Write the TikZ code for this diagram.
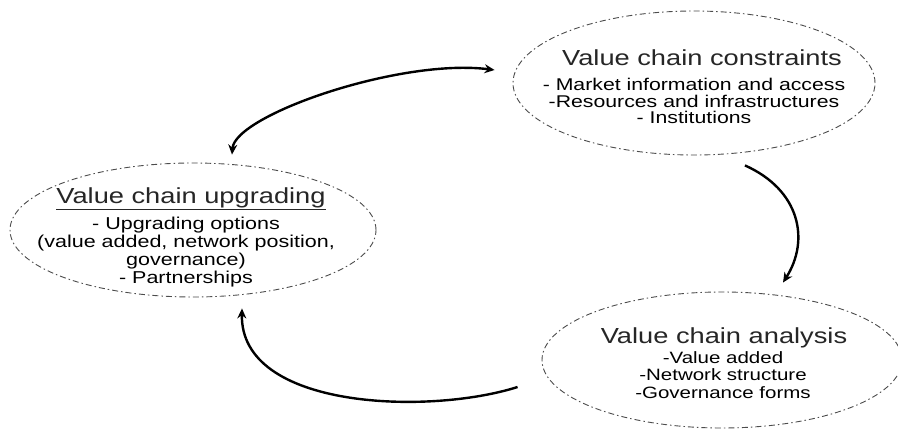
\documentclass[tikz,border=0pt]{standalone}
\usepackage{fontspec}
\setmainfont{Liberation Sans}[FakeStretch=1.25]
\usetikzlibrary{shapes.geometric,arrows.meta,calc}
\begin{document}
\begin{tikzpicture}[x=1pt,y=-1pt,
  cloud/.style={ellipse, draw=black!70, line width=0.9pt,
    dash pattern=on 6pt off 3pt on 1.5pt off 3pt, inner sep=0pt},
  ttl/.style={anchor=base, font=\fontsize{21.8}{24}\selectfont, text=black!85, inner sep=0pt},
  body/.style={anchor=base, align=center, inner sep=0pt, text=black},
  arr/.style={line width=2.4pt, -{Stealth[length=10pt,width=9pt]}},
  arrtwo/.style={line width=2.4pt, {Stealth[length=10pt,width=9pt]}-{Stealth[length=10pt,width=9pt]}},
]
\fill[white] (0,0) rectangle (898,434);
\useasboundingbox (0,0) rectangle (898,434);

% ellipses
\node[cloud, minimum width=362pt, minimum height=144pt] (con) at (694,83) {};
\node[cloud, minimum width=366pt, minimum height=134pt] (up) at (193,230) {};
\node[cloud, minimum width=360pt, minimum height=136pt] (ana) at (722,360) {};

% texts (body nodes: base = baseline of last line)
\node[ttl] (conT) at (702,65) {Value chain constraints};
\node[body, font=\fontsize{17}{16.3}\selectfont] (conB) at (694,123.5)
  {- Market information and access\\-Resources and infrastructures\\- Institutions};

\node[ttl] (upT) at (191,203) {\underline{Value chain upgrading}};
\node[body, font=\fontsize{17.2}{18}\selectfont] (upB) at (186,283)
  {- Upgrading options\\(value added, network position,\\governance)\\- Partnerships};

\node[ttl] (anT) at (724,343) {Value chain analysis};
\node[body, font=\fontsize{16.4}{17.5}\selectfont] (anB) at (723,398)
  {-Value added\\-Network structure\\-Governance forms};

% connectors
\draw[arrtwo] ($(up.north)+(39,-8)$) .. controls (235,115) and (400,58) .. ($(con.west)+(-18,-13)$);
\draw[arr] ($(con.south)+(51,10)$) .. controls (800,190) and (810,240) .. ($(ana.north)+(61,-9)$);
\draw[arr] ($(ana.west)+(-24,27)$) .. controls (430,415) and (240,410) .. ($(up.south)+(49,11)$);
\end{tikzpicture}
\end{document}
